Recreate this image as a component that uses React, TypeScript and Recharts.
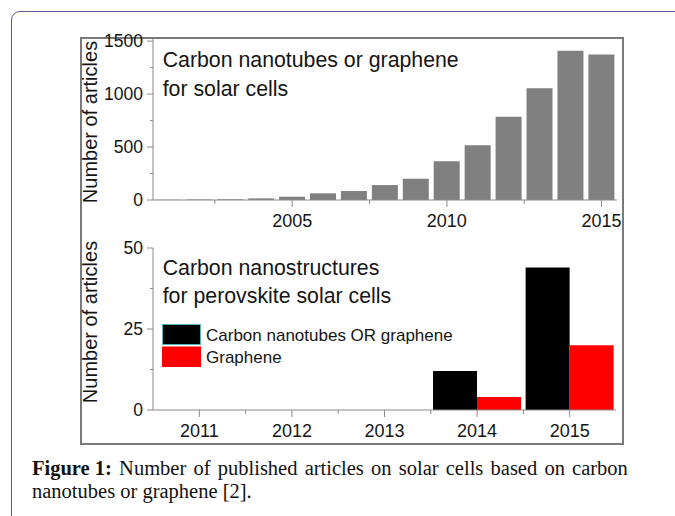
import React from 'react';
import { BarChart, Bar, XAxis, YAxis, Legend } from 'recharts';

// ---------- data ----------
const topYears = [2001, 2002, 2003, 2004, 2005, 2006, 2007, 2008, 2009, 2010, 2011, 2012, 2013, 2014, 2015];
const topCounts = [2, 5, 7, 15, 31, 63, 85, 141, 201, 365, 516, 786, 1054, 1408, 1374];
const topYTicks = [0, 250, 500, 750, 1000, 1250, 1500];
const topYMajor = [0, 500, 1000, 1500];
const topXLabelYears = [2005, 2010, 2015];
const topXMinorAfter = [2002, 2007, 2012];

const bottomYears = [2011, 2012, 2013, 2014, 2015];
const cntOrGraphene = [0, 0, 0, 12, 44];
const grapheneOnly = [0, 0, 0, 4, 20];
const bottomYTicks = [0, 12.5, 25, 37.5, 50];
const bottomYMajor = [0, 25, 50];
const bottomXMinorAfter = [2011, 2012, 2013, 2014];

const topData = topYears.map((year, i) => ({ year, count: topCounts[i] }));
const bottomData = bottomYears.map((year, i) => ({ year, cnt: cntOrGraphene[i], gr: grapheneOnly[i] }));

// ---------- styles ----------
const SANS = '"Liberation Sans", Arial, sans-serif';
const SERIF = '"Liberation Serif", "Times New Roman", serif';
const AXIS = '#8a8a8a';
const FRAME = '#b8b8b8';
const TEXT = '#151515';
const XT_SIZE = 7;
const XT_MARGIN = 6;
const YT_SIZE = 6;
const YT_MARGIN = 4;

const makeXTick = (labelYears: number[] | null, minorAfter: number[], fallbackHalf: number) => (props: any) => {
  const { x, y, payload } = props;
  const axisY = y - XT_SIZE - XT_MARGIN;
  const v = payload.value;
  const half = typeof payload.offset === 'number' && payload.offset > 0 ? payload.offset : fallbackHalf;
  const showLabel = labelYears === null || labelYears.includes(v);
  return (
    <g>
      {showLabel && (
        <>
          <line x1={x} x2={x} y1={axisY} y2={axisY + 7} stroke={AXIS} strokeWidth={1} />
          <text x={x} y={axisY + 26.7} textAnchor="middle" fontFamily={SANS} fontSize={18} fill={TEXT}>
            {v}
          </text>
        </>
      )}
      {minorAfter.includes(v) && (
        <line x1={x + half} x2={x + half} y1={axisY} y2={axisY + 4} stroke={AXIS} strokeWidth={1} />
      )}
    </g>
  );
};

const makeYTick = (majors: number[]) => (props: any) => {
  const { x, y, payload } = props;
  const axisX = x + YT_SIZE + YT_MARGIN;
  const major = majors.includes(payload.value);
  return (
    <g>
      <line x1={axisX - (major ? 6 : 3)} x2={axisX} y1={y} y2={y} stroke={AXIS} strokeWidth={1} />
      {major && (
        <text x={axisX - 10} y={y} dy="0.36em" textAnchor="end" fontFamily={SANS} fontSize={17.5} fill={TEXT}>
          {payload.value}
        </text>
      )}
    </g>
  );
};

const makeYTitle = (dyCenter: number) => (props: any) => {
  const vb = props.viewBox || { x: 0, y: 0, width: 0, height: 0 };
  const cx = vb.x + 97;
  const cy = vb.y + vb.height / 2 + dyCenter;
  return (
    <text
      transform={`rotate(-90 ${cx} ${cy})`}
      x={cx}
      y={cy}
      textAnchor="middle"
      fontFamily={SANS}
      fontSize={20}
      fill={TEXT}
    >
      Number of articles
    </text>
  );
};

const LegendBox = (props: any) => {
  const payload = props.payload || [];
  return (
    <svg width={320} height={46} style={{ display: 'block' }}>
      {payload.map((p: any, i: number) => {
        const top = i === 0 ? 0.5 : 23;
        const h = i === 0 ? 20 : 19.5;
        return (
          <g key={i}>
            <rect
              x={0.5}
              y={top}
              width={38}
              height={h}
              fill={p.color}
              stroke={i === 0 ? '#56b4bc' : p.color}
              strokeWidth={1}
            />
            <text x={44} y={i === 0 ? 16.7 : 38.7} fontFamily={SANS} fontSize={17} fill={TEXT}>
              {p.value}
            </text>
          </g>
        );
      })}
    </svg>
  );
};

export default function App() {
  return (
    <div
      style={{
        position: 'absolute',
        left: 0,
        top: 0,
        width: 675,
        height: 516,
        overflow: 'hidden',
        background: '#fff',
      }}
    >
      {/* outer rounded page border */}
      <div
        style={{
          position: 'absolute',
          left: 11,
          top: 11,
          width: 720,
          height: 600,
          border: '1px solid #5b5b8e',
          borderRadius: 9,
          boxSizing: 'border-box',
        }}
      />
      {/* figure frame */}
      <div
        style={{
          position: 'absolute',
          left: 80,
          top: 37,
          width: 544,
          height: 408,
          border: '2px solid #7a7a7a',
          boxSizing: 'border-box',
        }}
      />

      {/* top chart */}
      <div style={{ position: 'absolute', left: 0, top: 0, width: 621, height: 240, overflow: 'hidden' }}>
        <BarChart
          width={621}
          height={240}
          data={topData}
          margin={{ top: 39, right: 4, bottom: 10, left: 0 }}
          barCategoryGap="7.5%"
        >
          <XAxis
            dataKey="year"
            height={30}
            interval={0}
            tickSize={XT_SIZE}
            tickMargin={XT_MARGIN}
            tickLine={false}
            axisLine={{ stroke: AXIS }}
            tick={makeXTick(topXLabelYears, topXMinorAfter, 15.47)}
          />
          <XAxis
            xAxisId="top"
            dataKey="year"
            orientation="top"
            height={0}
            tick={false}
            tickLine={false}
            axisLine={{ stroke: FRAME }}
          />
          <YAxis
            width={153}
            domain={[0, 1520]}
            ticks={topYTicks}
            interval={0}
            tickSize={YT_SIZE}
            tickMargin={YT_MARGIN}
            tickLine={false}
            axisLine={{ stroke: AXIS }}
            tick={makeYTick(topYMajor)}
            label={makeYTitle(2.5)}
          />
          <YAxis
            yAxisId="right"
            orientation="right"
            width={0}
            domain={[0, 1]}
            tick={false}
            tickLine={false}
            axisLine={{ stroke: FRAME }}
          />
          <Bar dataKey="count" fill="#808080" isAnimationActive={false} />
        </BarChart>
      </div>

      {/* bottom chart */}
      <div style={{ position: 'absolute', left: 0, top: 225, width: 621, height: 225, overflow: 'hidden' }}>
        <BarChart
          width={621}
          height={225}
          data={bottomData}
          margin={{ top: 23, right: 5, bottom: 10, left: 0 }}
          barCategoryGap="2.4%"
          barGap={0}
        >
          <XAxis
            dataKey="year"
            height={30}
            interval={0}
            tickSize={XT_SIZE}
            tickMargin={XT_MARGIN}
            tickLine={false}
            axisLine={{ stroke: AXIS }}
            tick={makeXTick(null, bottomXMinorAfter, 46.15)}
          />
          <XAxis
            xAxisId="top"
            dataKey="year"
            orientation="top"
            height={0}
            tick={false}
            tickLine={false}
            axisLine={{ stroke: FRAME }}
          />
          <YAxis
            width={153}
            domain={[0, 50]}
            ticks={bottomYTicks}
            interval={0}
            tickSize={YT_SIZE}
            tickMargin={YT_MARGIN}
            tickLine={false}
            axisLine={{ stroke: AXIS }}
            tick={makeYTick(bottomYMajor)}
            label={makeYTitle(-7)}
          />
          <YAxis
            yAxisId="right"
            orientation="right"
            width={0}
            domain={[0, 1]}
            tick={false}
            tickLine={false}
            axisLine={{ stroke: FRAME }}
          />
          <Bar dataKey="cnt" name="Carbon nanotubes OR graphene" fill="#000000" isAnimationActive={false} />
          <Bar dataKey="gr" name="Graphene" fill="#ff0000" isAnimationActive={false} />
          <Legend
            layout="vertical"
            align="center"
            verticalAlign="middle"
            wrapperStyle={{ left: 162, top: 99, width: 320, height: 46 }}
            content={LegendBox}
          />
        </BarChart>
      </div>

      {/* in-plot titles */}
      <svg
        width={675}
        height={450}
        style={{ position: 'absolute', left: 0, top: 0, pointerEvents: 'none' }}
      >
        <text x={162.7} y={67.3} fontFamily={SANS} fontSize={21.3} fill={TEXT}>
          Carbon nanotubes or graphene
        </text>
        <text x={162.7} y={96} fontFamily={SANS} fontSize={21.3} fill={TEXT}>
          for solar cells
        </text>
        <text x={162.7} y={274.5} fontFamily={SANS} fontSize={21.3} fill={TEXT}>
          Carbon nanostructures
        </text>
        <text x={162.7} y={303} fontFamily={SANS} fontSize={21.3} fill={TEXT}>
          for perovskite solar cells
        </text>
      </svg>

      {/* caption */}
      <div
        style={{
          position: 'absolute',
          left: 32,
          top: 457,
          width: 596,
          fontFamily: SERIF,
          fontSize: 20.5,
          lineHeight: '23px',
          color: '#111',
        }}
      >
        <div style={{ display: 'flex', justifyContent: 'space-between', whiteSpace: 'nowrap' }}>
          {['Figure 1:', 'Number', 'of', 'published', 'articles', 'on', 'solar', 'cells', 'based', 'on', 'carbon'].map(
            (w, i) => (
              <span key={i} style={{ fontWeight: i === 0 ? 'bold' : 'normal' }}>
                {w}
              </span>
            )
          )}
        </div>
        <div style={{ whiteSpace: 'nowrap' }}>nanotubes or graphene [2].</div>
      </div>
    </div>
  );
}
